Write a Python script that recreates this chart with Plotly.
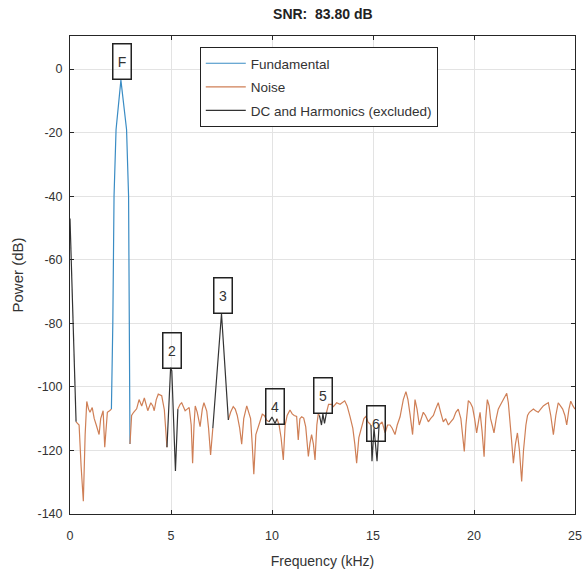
import plotly.graph_objects as go

# Fundamental (kHz, dB)
fund_f = [2.05, 2.12, 2.18, 2.28, 2.52, 2.8, 2.9, 2.93, 2.96, 2.97]
fund_db = [-107, -80, -40, -19, -3.5, -19, -40, -80, -108, -118]

# Noise (None separates segments)
noise_f = [0.3, 0.45, 0.55, 0.66, 0.75, 0.83, 0.92, 0.99, 1.1, 1.2, 1.3, 1.44, 1.52, 1.64, 1.72, 1.8, 1.85, 1.96, 2.05, None,
           2.97, 3.05, 3.15, 3.3, 3.42, 3.55, 3.68, 3.77, 3.85, 4.0, 4.1, 4.17, 4.27, 4.37, 4.54, 4.67, 4.8, None,
           5.34, 5.45, 5.53, 5.62, 5.7, 5.8, 5.9, 6.0, 6.07, 6.14, 6.2, 6.3, 6.44, 6.55, 6.63, 6.77, 6.86, 6.96, 7.07, None,
           7.84, 7.95, 8.08, 8.18, 8.28, 8.4, 8.5, 8.6, 8.75, 8.85, 8.94, 9.02, 9.1, 9.2, 9.37, 9.52, 9.62, 9.74, 9.85, None,
           10.25, 10.35, 10.45, 10.56, 10.65, 10.75, 10.89, 11.0, 11.1, 11.22, 11.3, 11.38, 11.47, 11.57, 11.67, 11.8, 11.88,
           11.96, 12.05, 12.13, 12.22, 12.29, 12.35, None,
           12.7, 12.8, 12.95, 13.04, 13.2, 13.37, 13.6, 13.72, 13.86, 14.0, 14.1, 14.19, 14.3, 14.44, 14.55, 14.65, 14.75, 14.9, None,
           15.3, 15.45, 15.6, 15.72, 15.84, 15.95, 16.09, 16.2, 16.34, 16.5, 16.63, 16.73, 16.83, 16.96, 17.08, 17.18, 17.29,
           17.4, 17.49, 17.6, 17.74, 17.85, 17.99, 18.1, 18.23, 18.35, 18.48, 18.6, 18.73, 18.85, 18.98, 19.1, 19.22, 19.35,
           19.45, 19.52, 19.6, 19.72, 19.82, 19.93, 20.03, 20.13, 20.22, 20.3, 20.4, 20.5, 20.58, 20.66, 20.75, 20.82, 20.9,
           20.99, 21.1, 21.2, 21.28, 21.37, 21.5, 21.62, 21.7, 21.78, 21.85, 21.95, 22.05, 22.15, 22.25, 22.36, 22.45, 22.57,
           22.65, 22.74, 22.84, 22.94, 23.05, 23.18, 23.3, 23.43, 23.55, 23.68, 23.8, 23.93, 24.05, 24.17, 24.28, 24.39, 24.5,
           24.59, 24.7, 24.79, 24.9, 25.0]
noise_db = [-111, -112, -125, -136, -115, -104.6, -107, -108, -106.5, -110, -112, -115, -110, -107.5, -119, -110, -108, -107.5, -107, None,
            -118, -109, -108, -106.9, -104, -106, -103.5, -106, -107.5, -105, -106, -107.5, -104, -102.3, -102.8, -107.2, -119, None,
            -107, -105.5, -105, -106.5, -107.5, -107, -106.5, -112, -124, -112, -106, -108, -112.5, -107, -105, -107.6, -113, -121.4, -113, None,
            -110.4, -108, -106.2, -107, -109, -113, -118, -110, -106, -108, -110, -118, -127.5, -115, -111.5, -108.6, -109, -110.5, -111, None,
            -110, -112, -116, -123, -112, -109, -107.3, -108.5, -109, -109.3, -116.7, -110, -109.4, -109.8, -112.6, -121.9, -117.7,
            -115, -118, -123, -112, -108.5, -109, None,
            -108, -105.5, -105.5, -106.2, -105, -105.5, -104.4, -106, -109.3, -113, -118, -124, -116, -112.3, -110, -109.3, -111, -112, None,
            -112, -111, -114.5, -112, -112, -113, -115, -112, -109.4, -104, -101.5, -104, -108.5, -115, -104, -107, -112,
            -110, -108, -109, -111, -110, -109, -107, -105, -108, -111, -110, -112, -111, -110, -108, -107, -110,
            -116, -120.3, -112, -104.3, -105, -106.5, -110, -114.5, -111, -108, -114, -122, -110, -104, -106, -110, -112,
            -114.5, -110, -107, -106, -105, -103.5, -102, -105, -110, -116, -124, -118, -114.5, -120, -129.8, -120, -112,
            -109, -108, -107.5, -107, -107.5, -108, -107, -106, -105.5, -105, -109, -115, -109, -105, -106, -107, -109,
            -112, -107, -104.5, -106, -107]

# DC and harmonics (None separates segments)
harm_f = [0.0, 0.3, None,
          4.8, 4.98, 5.04, 5.22, 5.34, None,
          7.07, 7.5, 7.84, None,
          9.85, 10.0, 10.15, 10.25, None,
          12.35, 12.45, 12.52, 12.6, 12.7, None,
          14.9, 14.95, 15.05, 15.12, 15.2, 15.3]
harm_db = [-47, -111, None,
           -119, -94, -95, -126.5, -107, None,
           -113, -77, -110.4, None,
           -111, -109.5, -111.5, -110, None,
           -109, -112, -108.5, -111.5, -108, None,
           -112, -123.4, -113, -117, -123.4, -112]

# Peak labels
label_text = ["F", "2", "3", "4", "5", "6"]
label_f = [2.55, 5.05, 7.55, 10.15, 12.52, 15.15]
label_db = [-3.5, -94.3, -77, -112, -108.5, -117.5]

# Axis ticks
x_ticks = [0, 5, 10, 15, 20, 25]
y_ticks = [-140, -120, -100, -80, -60, -40, -20, 0]
y_ticktext = ["-140", "-120", "-100", "-80", "-60", "-40", "-20", "0"]

FONT = "Liberation Sans, Arial"

fig = go.Figure()
fig.add_trace(go.Scatter(x=fund_f, y=fund_db, mode="lines", name="Fundamental", legendgroup="a",
                         line=dict(color="#3a8cc4", width=1.2)))
fig.add_trace(go.Scatter(x=noise_f, y=noise_db, mode="lines", name="Noise", legendgroup="b",
                         line=dict(color="#cf7f56", width=1.2), connectgaps=False))
fig.add_trace(go.Scatter(x=harm_f, y=harm_db, mode="lines", name="DC and Harmonics (excluded)", legendgroup="c",
                         line=dict(color="#333333", width=1.2), connectgaps=False))

for t, fx, vy in zip(label_text, label_f, label_db):
    fig.add_annotation(x=fx, y=vy, xref="x", yref="y", text=t, showarrow=False,
                       yanchor="bottom", xanchor="center",
                       font=dict(size=14, color="#333333", family=FONT),
                       bordercolor="#222222", borderwidth=1.5, borderpad=1,
                       width=15, height=32, bgcolor="rgba(255,255,255,0)")

axis_common = dict(showline=True, linecolor="#262626", linewidth=1, mirror="ticks",
                   ticks="inside", ticklen=4, tickcolor="#262626", automargin=False,
                   showgrid=True, gridcolor="#e3e3e3", gridwidth=1, zeroline=False,
                   tickfont=dict(size=12.5, color="#333333", family=FONT))

fig.update_xaxes(range=[0, 25], tickvals=x_ticks, ticklabelstandoff=10,
                 title=dict(text="Frequency (kHz)", standoff=14,
                            font=dict(size=14, color="#333333", family=FONT)),
                 **axis_common)
fig.update_yaxes(range=[-140, 10.4], tickvals=y_ticks, ticktext=y_ticktext, ticklabelstandoff=4,
                 title=dict(text="Power (dB)", standoff=10,
                            font=dict(size=15, color="#333333", family=FONT)),
                 **axis_common)

fig.update_layout(
    width=587, height=576,
    margin=dict(l=70, r=12, t=36, b=62),
    paper_bgcolor="white", plot_bgcolor="white",
    title=dict(text="<b>SNR:  83.80 dB</b>", x=0.55, xanchor="center", y=0.975, yanchor="middle",
               font=dict(size=14, color="#222222", family=FONT)),
    legend=dict(x=0.257, y=0.977, xanchor="left", yanchor="top",
                bordercolor="#222222", borderwidth=1, bgcolor="white",
                font=dict(size=13.5, color="#333333", family=FONT),
                tracegroupgap=3, itemwidth=40),
    showlegend=True,
)

fig.write_html("out.html")
